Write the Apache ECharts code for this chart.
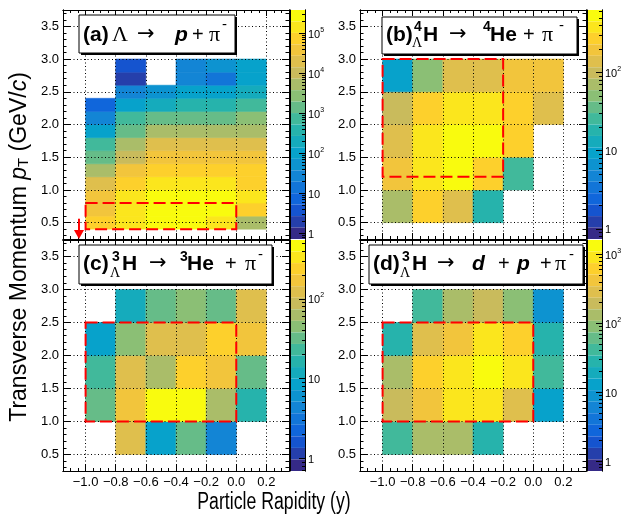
<!DOCTYPE html>
<html>
<head>
<meta charset="utf-8">
<script src="https://cdn.jsdelivr.net/npm/echarts@6/dist/echarts.min.js"></script>
<style>
html, body { margin: 0; padding: 0; background: #fff; }
#chart { width: 621px; height: 516px; }
</style>
</head>
<body>
<div id="chart"></div>
<script>
// bin edges (rapidity, pT)
var rapidityEdges = [-1.0, -0.8, -0.6, -0.4, -0.2, 0.0, 0.2];
var ptEdgesLambda = [0.4, 0.6, 0.8, 1.0, 1.2, 1.4, 1.6, 1.8, 2.0, 2.2, 2.4, 2.6, 2.8, 3.0];
var ptEdgesHyper = [0.5, 1.0, 1.5, 2.0, 2.5, 3.0];

// counts, one list per rapidity bin, from low pT to high pT (null = empty)
var countsA = [
    [60000, 52000, 46000, 18500, 7300, 1950, 525, 83, 22, 6.8, null, null, null],
    [117000, 152000, 117000, 78000, 40000, 14000, 4350, 1950, 525, 95, 19.5, 2.7, 5.2],
    [225000, 335000, 257000, 133000, 78000, 40000, 16000, 5700, 1950, 270, 64, null, null],
    [197000, 335000, 294000, 152000, 78000, 46000, 16000, 5700, 1950, 400, 108, 19.5, 22],
    [117000, 294000, 257000, 174000, 100000, 52000, 21000, 5700, 1950, 460, 83, 17, 38],
    [7300, 60000, 117000, 89000, 78000, 40000, 21000, 7300, 2550, 780, 240, 95, 73]
];
var countsB = [
    [83, 200, 143, 89, 8.4],
    [281, 368, 368, 281, 56],
    [143, 515, 550, 344, 134],
    [15.5, 263, 482, 344, 143],
    [null, 28, 281, 281, 214],
    [null, null, null, 143, 164]
];
var countsC = [
    [null, 38, 25.5, 8.2, null],
    [104, 177, 135, 53, 13],
    [8.2, 394, 57, 104, 35.6],
    [38, 394, 247, 118, 46],
    [4.5, 57, 177, 264, 38],
    [null, 18, 38, 177, 104]
];
var countsD = [
    [43, 235, 127, 27, null],
    [148, 471, 641, 254, 43],
    [148, 875, 875, 471, 137],
    [31.5, 875, 1390, 809, 235],
    [null, 296, 1100, 641, 74],
    [null, 11.6, 43, 31.5, 7.3]
];

// colour scale limits (log10) and colour-bar ticks
var zRangeA = [-0.14, 5.58];
var zRangeB = [-0.13, 2.80];
var zRangeC = [-0.16, 2.74];
var zRangeD = [-0.145, 3.21];
var zTicksA = [0, 1, 2, 3, 4, 5];
var zTicksB = [0, 1, 2];
var zTicksC = [0, 1, 2];
var zTicksD = [0, 1, 2, 3];

// acceptance windows [y0, pT0, y1, pT1] and the arrow [y, pTstart, pTend]
var windowA = [-1.0, 0.4, 0.0, 0.8];
var windowB = [-1.0, 1.2, -0.2, 3.0];
var windowC = [-1.0, 1.0, 0.0, 2.5];
var windowD = [-1.0, 1.0, 0.0, 2.5];
var arrowA = [-1.044, 0.56, 0.25];

// axis ticks
var xRange = [-1.15, 0.35];
var yRange = [0.25, 3.75];
var xMajor = [-1.0, -0.8, -0.6, -0.4, -0.2, 0.0, 0.2];
var yMajor = [0.5, 1.0, 1.5, 2.0, 2.5, 3.0, 3.5];
var xMinor = [], yMinor = [];
for (var i = 0; i <= 30; i++) xMinor.push(+(-1.15 + i * 0.05).toFixed(2));
for (var j = 0; j <= 34; j++) yMinor.push(+(0.3 + j * 0.1).toFixed(1));

var bird = ['#352a87', '#0f5cdd', '#1481d6', '#06a4ca', '#2eb7a4', '#87bf77', '#d1bb59', '#fec832', '#f9fb0e'];
var FONT = 'Liberation Sans, Arial, Helvetica, sans-serif';
var GREEK = 'Liberation Serif, DejaVu Serif, serif';
var ARROW = 'DejaVu Sans, sans-serif';

var layout = [
    {left: 63, top: 10, width: 226, height: 229, bar: 290, labels: false},
    {left: 360, top: 10, width: 226, height: 229, bar: 587, labels: false},
    {left: 63, top: 240, width: 226, height: 231, bar: 290, labels: true},
    {left: 360, top: 240, width: 226, height: 231, bar: 587, labels: true}
];
var panels = [
    {counts: countsA, ptEdges: ptEdgesLambda, z: zRangeA, ticks: zTicksA, win: windowA},
    {counts: countsB, ptEdges: ptEdgesHyper, z: zRangeB, ticks: zTicksB, win: windowB},
    {counts: countsC, ptEdges: ptEdgesHyper, z: zRangeC, ticks: zTicksC, win: windowC},
    {counts: countsD, ptEdges: ptEdgesHyper, z: zRangeD, ticks: zTicksD, win: windowD}
];

function cellData(xe, ye, counts) {
    var out = [];
    for (var i = 0; i < counts.length; i++) {
        for (var j = 0; j < counts[i].length; j++) {
            var c = counts[i][j];
            if (c == null) continue;
            out.push([xe[i], xe[i + 1], ye[j], ye[j + 1], Math.log10(c), c]);
        }
    }
    return out;
}

function renderCell(params, api) {
    var a = api.coord([api.value(0), api.value(3)]);
    var b = api.coord([api.value(1), api.value(2)]);
    var fill = api.visual('color');
    return {
        type: 'rect',
        shape: {x: a[0], y: a[1], width: b[0] - a[0], height: b[1] - a[1]},
        style: {fill: fill, stroke: fill, lineWidth: 0.6}
    };
}

function renderWindow(params, api) {
    var a = api.coord([api.value(0), api.value(3)]);
    var b = api.coord([api.value(2), api.value(1)]);
    return {
        type: 'rect',
        shape: {x: a[0], y: a[1], width: b[0] - a[0], height: b[1] - a[1]},
        style: {fill: null, stroke: '#ff0000', lineWidth: 2, lineDash: [12, 5]}
    };
}

function renderArrow(params, api) {
    var top = api.coord([api.value(0), api.value(1)]);
    var tip = api.coord([api.value(0), api.value(2)]);
    return {
        type: 'group',
        children: [
            {type: 'line', shape: {x1: top[0], y1: top[1], x2: tip[0], y2: tip[1] - 8},
                style: {stroke: '#ff0000', lineWidth: 2}},
            {type: 'polygon', shape: {points: [[tip[0] - 5, tip[1] - 9], [tip[0] + 5, tip[1] - 9], [tip[0], tip[1]]]},
                style: {fill: '#ff0000'}}
        ]
    };
}

function fmtX(v) {
    var s = (+v).toFixed(1);
    if (s === '-0.0') s = '0.0';
    return s.replace('-', '\u2212');
}

function axis(grid, min, max, pos, ticks, len, extra) {
    var a = {
        type: 'value', gridIndex: grid, min: min, max: max, position: pos, z: 3,
        axisLine: {show: true, onZero: false, lineStyle: {color: '#000', width: 1}},
        axisTick: {show: true, inside: true, length: len, customValues: ticks, lineStyle: {color: '#000', width: 1}},
        axisLabel: {show: false},
        splitLine: {show: false},
        minorTick: {show: false}
    };
    for (var k in extra) a[k] = extra[k];
    return a;
}

var option = {
    animation: false,
    backgroundColor: '#fff',
    grid: [], xAxis: [], yAxis: [], visualMap: [], series: [],
    graphic: {elements: []}
};

var dotted = {show: true, lineStyle: {color: '#000', width: 1, type: [1, 2.5]}};

panels.forEach(function (p, n) {
    var L = layout[n];
    option.grid.push({left: L.left, top: L.top, width: L.width, height: L.height, outerBoundsMode: 'none'});
    var xi = option.xAxis.length, yi = option.yAxis.length;
    option.xAxis.push(axis(n, xRange[0], xRange[1], 'bottom', xMajor, 6, {
        splitLine: dotted,
        axisLabel: L.labels ? {show: true, customValues: xMajor, formatter: fmtX, fontFamily: FONT,
            fontSize: 13, color: '#000', margin: 5} : {show: false}
    }));
    option.xAxis.push(axis(n, xRange[0], xRange[1], 'top', xMajor, 6, {}));
    option.xAxis.push(axis(n, xRange[0], xRange[1], 'bottom', xMinor, 3, {}));
    option.xAxis.push(axis(n, xRange[0], xRange[1], 'top', xMinor, 3, {}));
    option.yAxis.push(axis(n, yRange[0], yRange[1], 'left', yMajor, 7, {
        splitLine: dotted,
        axisLabel: {show: true, customValues: yMajor, formatter: function (v) { return (+v).toFixed(1); },
            fontFamily: FONT, fontSize: 13, color: '#000', margin: 4}
    }));
    option.yAxis.push(axis(n, yRange[0], yRange[1], 'right', yMajor, 7, {}));
    option.yAxis.push(axis(n, yRange[0], yRange[1], 'left', yMinor, 3.5, {}));
    option.yAxis.push(axis(n, yRange[0], yRange[1], 'right', yMinor, 3.5, {}));

    option.series.push({
        type: 'custom', name: 'cells' + n, xAxisIndex: xi, yAxisIndex: yi, z: 2,
        renderItem: renderCell, encode: {x: [0, 1], y: [2, 3]},
        data: cellData(rapidityEdges, p.ptEdges, p.counts)
    });
    option.series.push({
        type: 'custom', name: 'window' + n, xAxisIndex: xi, yAxisIndex: yi, z: 5,
        renderItem: renderWindow, encode: {x: [0, 2], y: [1, 3]},
        data: [p.win]
    });
    if (n === 0) {
        option.series.push({
            type: 'custom', name: 'arrow', xAxisIndex: xi, yAxisIndex: yi, z: 6, clip: false,
            renderItem: renderArrow, encode: {x: 0, y: [1, 2]},
            data: [arrowA]
        });
    }
});

// colour bars
panels.forEach(function (p, n) {
    var L = layout[n];
    var g = option.grid.length;
    option.grid.push({left: L.bar, top: L.top, width: 15, height: L.height, outerBoundsMode: 'none'});
    var seriesIdx = option.series.findIndex(function (s) { return s.name === 'cells' + n; });
    option.visualMap.push({
        type: 'piecewise', seriesIndex: seriesIdx, dimension: 4,
        min: p.z[0], max: p.z[1], splitNumber: 20,
        orient: 'vertical', left: L.bar, top: L.top, padding: 0,
        itemWidth: 15, itemHeight: L.height / 20, itemGap: 0, itemSymbol: 'rect',
        showLabel: false, selectedMode: false, hoverLink: false,
        inRange: {color: bird}
    });
    var minor = [];
    for (var e = Math.floor(p.z[0]); e <= Math.ceil(p.z[1]); e++) {
        for (var m = 2; m <= 9; m++) {
            var lv = e + Math.log10(m);
            if (lv > p.z[0] && lv < p.z[1]) minor.push(lv);
        }
    }
    option.xAxis.push({type: 'value', gridIndex: g, min: 0, max: 1, show: false});
    option.yAxis.push(axis(g, p.z[0], p.z[1], 'right', p.ticks, 6, {
        z: 6,
        axisLabel: {
            show: true, customValues: p.ticks, margin: 3, color: '#000', fontFamily: FONT, fontSize: 11,
            formatter: function (v) {
                v = Math.round(v);
                if (v === 0) return '{b|1}';
                if (v === 1) return '{b|10}';
                return '{b|10}{s|' + v + '}';
            },
            rich: {
                b: {fontSize: 11, fontFamily: FONT, color: '#000', lineHeight: 14, verticalAlign: 'bottom'},
                s: {fontSize: 7, fontFamily: FONT, color: '#000', lineHeight: 7, verticalAlign: 'top'}
            }
        }
    }));
    option.yAxis.push(axis(g, p.z[0], p.z[1], 'right', minor, 3, {z: 6}));
    option.yAxis.push(axis(g, p.z[0], p.z[1], 'left', [], 0, {z: 6, axisTick: {show: false}}));
});

// legend boxes
var boxes = [
    {x: 79, y: 15, w: 156, h: 38},
    {x: 382, y: 17, w: 195, h: 37},
    {x: 79, y: 245, w: 193, h: 39},
    {x: 369, y: 245, w: 214, h: 39}
];
var st = {
    b: {fontSize: 21, fontWeight: 'bold', fontFamily: FONT},
    n: {fontSize: 20, fontFamily: FONT},
    bi: {fontSize: 21, fontWeight: 'bold', fontStyle: 'italic', fontFamily: FONT},
    g: {fontSize: 22, fontFamily: GREEK},
    a: {fontSize: 21, fontFamily: ARROW},
    sb: {fontSize: 14, fontWeight: 'bold', fontFamily: FONT},
    sg: {fontSize: 14, fontFamily: GREEK},
    s: {fontSize: 15, fontFamily: FONT}
};
var pieces = [
    [['(a)', 83, 35, 'b'], ['\u039b', 112, 35, 'g'], ['\u2192', 137, 35, 'a'], ['p', 175, 35, 'bi'],
     ['+', 192, 35, 'n'], ['\u03c0', 209, 35, 'g'], ['-', 222, 25, 's']],
    [['(b)', 386, 35, 'b'], ['4', 414, 27, 'sb'], ['\u039b', 412, 43, 'sg'], ['H', 423, 35, 'b'],
     ['\u2192', 449, 35, 'a'], ['4', 483, 27, 'sb'], ['He', 490, 35, 'b'], ['+', 523, 35, 'n'],
     ['\u03c0', 542, 35, 'g'], ['-', 559, 26, 's']],
    [['(c)', 83, 264, 'b'], ['3', 112, 257, 'sb'], ['\u039b', 110, 273, 'sg'], ['H', 122, 264, 'b'],
     ['\u2192', 149, 264, 'a'], ['3', 180, 257, 'sb'], ['He', 187, 264, 'b'], ['+', 225, 264, 'n'],
     ['\u03c0', 245, 264, 'g'], ['-', 258, 255, 's']],
    [['(d)', 373, 264, 'b'], ['3', 402, 257, 'sb'], ['\u039b', 400, 273, 'sg'], ['H', 412, 264, 'b'],
     ['\u2192', 437, 264, 'a'], ['d', 472, 264, 'bi'], ['+', 498, 264, 'n'], ['p', 517, 264, 'bi'],
     ['+', 540, 264, 'n'], ['\u03c0', 555, 264, 'g'], ['-', 569, 255, 's']]
];
var els = option.graphic.elements;
boxes.forEach(function (b, n) {
    els.push({type: 'rect', z: 100, shape: {x: b.x + 2, y: b.y + 2, width: b.w, height: b.h}, style: {fill: '#000'}});
    els.push({type: 'rect', z: 100, shape: {x: b.x, y: b.y, width: b.w, height: b.h},
        style: {fill: '#fff', stroke: '#000', lineWidth: 1}});
    pieces[n].forEach(function (q) {
        var s = {text: q[0], fill: '#000', align: 'left', verticalAlign: 'middle'};
        var f = st[q[3]];
        for (var k in f) s[k] = f[k];
        els.push({type: 'text', z: 101, x: q[1], y: q[2], style: s});
    });
});

// axis titles
els.push({
    type: 'text', z: 101, x: 20, y: 247, rotation: Math.PI / 2,
    style: {
        text: 'Transverse Momentum {i|p}{sub|T} (GeV/{i|c})',
        fontSize: 23, fontFamily: FONT, fill: '#000', align: 'center', verticalAlign: 'middle',
        rich: {
            i: {fontSize: 23, fontStyle: 'italic', fontFamily: FONT, fill: '#000'},
            sub: {fontSize: 15, fontFamily: FONT, fill: '#000', verticalAlign: 'bottom'}
        }
    }
});
els.push({
    type: 'text', z: 101, x: 274, y: 503, scaleX: 0.77,
    style: {text: 'Particle Rapidity (y)', fontSize: 23, fontFamily: FONT, fill: '#000',
        align: 'center', verticalAlign: 'middle'}
});

echarts.init(document.getElementById('chart')).setOption(option);
</script>
</body>
</html>
